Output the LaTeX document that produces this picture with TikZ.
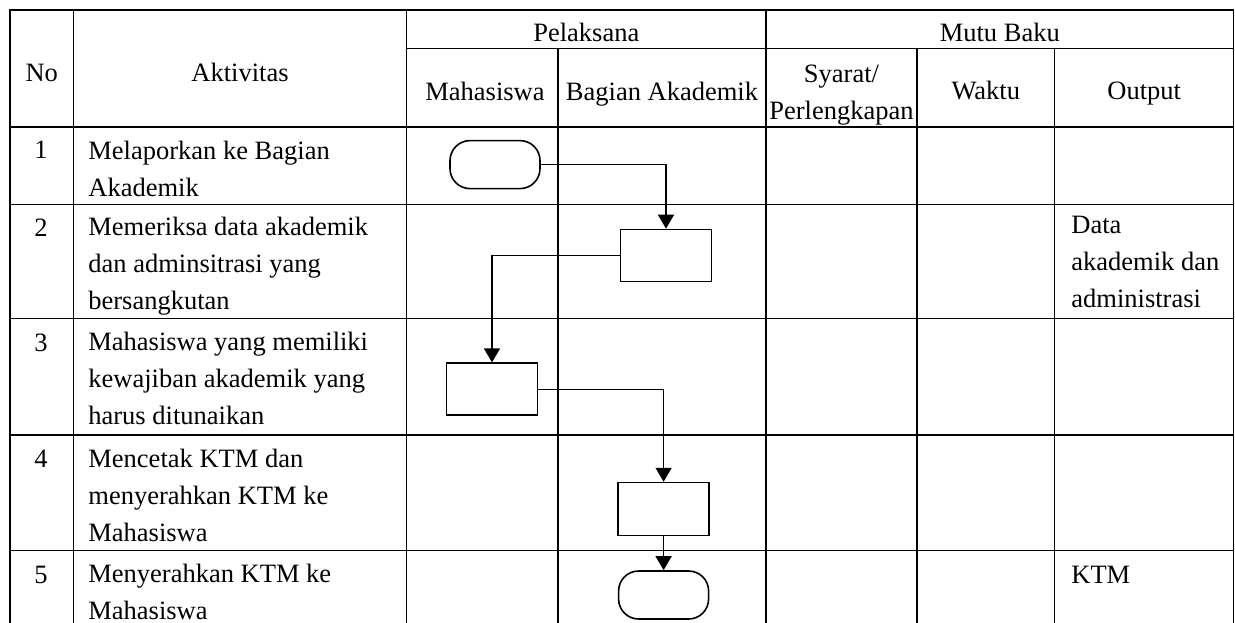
\documentclass[tikz,border=0pt]{standalone}
\usepackage{fontspec}
\setmainfont{Liberation Serif}
\usetikzlibrary{arrows.meta}
\begin{document}
\begin{tikzpicture}[x=0.5pt,y=-0.5pt,
  gridline/.style={line width=0.6pt, line cap=rect},
  txt/.style={inner sep=0pt, align=left, anchor=base west,
    font=\fontsize{13.25pt}{18.5pt}\selectfont},
  ctxt/.style={inner sep=0pt, align=center, anchor=base,
    font=\fontsize{13.25pt}{18.5pt}\selectfont},
  procbox/.style={draw, line width=0.8pt, minimum width=45.5pt, minimum height=26pt, inner sep=0pt},
  termbox/.style={draw, line width=0.8pt, minimum width=45pt, minimum height=24pt, inner sep=0pt, rounded corners=10pt},
  flow/.style={line width=0.65pt, -{Triangle[width=8pt,length=7pt]}}]
\useasboundingbox (0,0) rectangle (1235,622);
% table grid
\draw[gridline] (10,10) -- (1233.5,10);
\draw[gridline] (406.6,48.8) -- (1233.5,48.8);
\foreach \y in {127,204.3,318.5,435,550.6}
  \draw[gridline] (10,\y) -- (1233.5,\y);
\foreach \x in {10,73.4,406.6,766,1233.5}
  \draw[gridline] (\x,10) -- (\x,630);
\foreach \x in {558,917,1054.5}
  \draw[gridline] (\x,48.8) -- (\x,630);
% header
\node[ctxt] (hno) at (41.7,81.3) {No};
\node[ctxt] (hakt) at (240,81.3) {Aktivitas};
\node[ctxt] (hpel) at (586.3,41.6) {Pelaksana};
\node[ctxt] (hmutu) at (999.8,41.6) {Mutu Baku};
\node[ctxt] (hmhs) at (485,100.4) {Mahasiswa};
\node[ctxt] (hbag) at (662,100.4) {Bagian Akademik};
\node[ctxt] (hsya) at (841.5,119) {Syarat/\\Perlengkapan};
\node[ctxt] (hwak) at (985.8,99.2) {Waktu};
\node[ctxt] (hout) at (1144.2,99.2) {Output};
% numbers
\node[ctxt] (n1) at (41,158.7) {1};
\node[ctxt] (n2) at (41,236) {2};
\node[ctxt] (n3) at (41,351) {3};
\node[ctxt] (n4) at (41,467.3) {4};
\node[ctxt] (n5) at (41,583) {5};
% activities (anchor = baseline of last line)
\node[txt] (a1) at (88,196) {Melaporkan ke Bagian\\Akademik};
\node[txt] (a2) at (88,309.5) {Memeriksa data akademik\\dan adminsitrasi yang\\bersangkutan};
\node[txt] (a3) at (88,424.5) {Mahasiswa yang memiliki\\kewajiban akademik yang\\harus ditunaikan};
\node[txt] (a4) at (88,541.5) {Mencetak KTM dan\\menyerahkan KTM ke\\Mahasiswa};
\node[txt] (a5) at (88,619.5) {Menyerahkan KTM ke\\Mahasiswa};
% outputs
\node[txt] (o2) at (1071,307.5) {Data\\akademik dan\\administrasi};
\node[txt] (o5) at (1071,583) {KTM};
% flow shapes
\node[termbox] (t1) at (495,164.6) {};
\node[procbox] (b2) at (666,255.5) {};
\node[procbox] (b3) at (492,389.2) {};
\node[procbox, minimum height=26.5pt] (b4) at (663.6,509.1) {};
\node[termbox] (t5) at (663.6,595) {};
% connectors
\draw[flow] (t1.east) -| (b2.north);
\draw[flow] (b2.west) -| (b3.north);
\draw[flow] (b3.east) -| (b4.north);
\draw[flow] (b4.south) -- (t5.north);
\end{tikzpicture}
\end{document}
